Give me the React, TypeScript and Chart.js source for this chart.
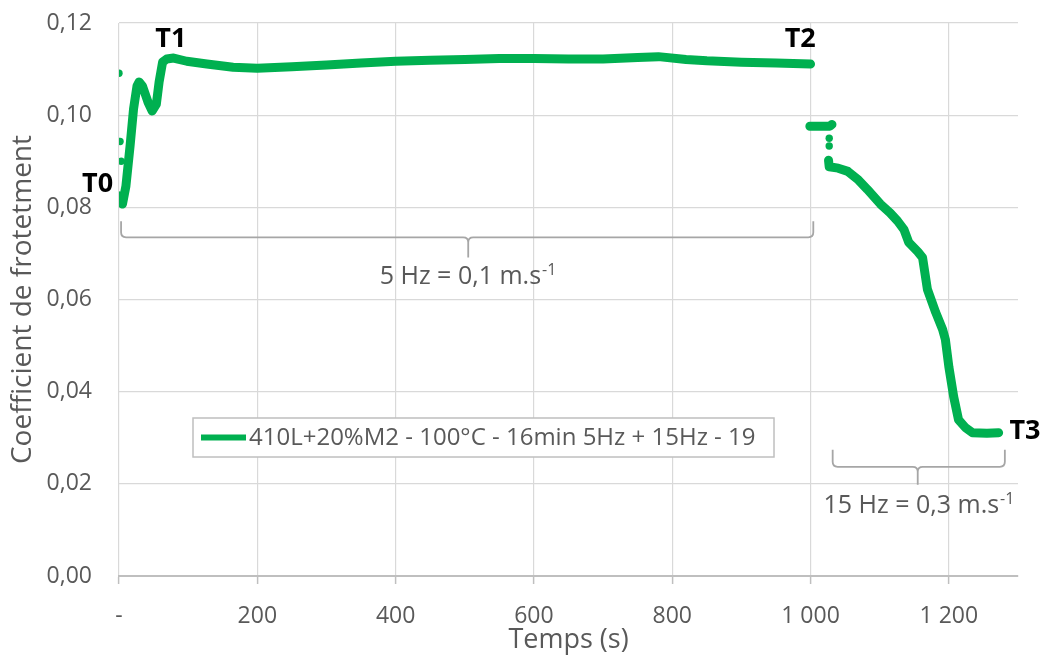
import React, { useEffect, useRef } from "react";
import { Chart, registerables } from "chart.js";

Chart.register(...registerables);

// ---- Data ----
const seg5x = [0, 5, 10, 16, 21, 26, 29, 34, 42, 48, 54, 58, 63, 69, 79, 98, 127, 165, 200, 250, 300, 350, 400, 450, 500, 550, 600, 650, 700, 750, 780, 820, 850, 900, 950, 1000];
const seg5y = [0.0825, 0.0807, 0.0846, 0.0933, 0.1013, 0.1063, 0.1072, 0.1063, 0.1028, 0.1009, 0.1024, 0.1072, 0.1115, 0.1122, 0.1124, 0.1117, 0.1111, 0.1104, 0.1102, 0.1105, 0.1109, 0.1113, 0.1117, 0.1119, 0.1121, 0.1123, 0.1123, 0.1122, 0.1122, 0.1125, 0.1127, 0.1121, 0.1118, 0.1115, 0.1113, 0.1111];

const stepX = [999, 1028, 1031];
const stepY = [0.0976, 0.0976, 0.098];

const seg15x = [1026, 1027, 1040, 1054, 1068, 1082, 1101, 1115, 1126, 1135, 1142, 1155, 1162, 1169, 1181, 1191, 1195, 1200, 1207, 1214, 1224, 1234, 1255, 1272];
const seg15y = [0.0902, 0.0888, 0.0885, 0.0878, 0.0861, 0.0839, 0.0807, 0.0788, 0.077, 0.0752, 0.0724, 0.0704, 0.0691, 0.0622, 0.0572, 0.0535, 0.0513, 0.0454, 0.0389, 0.0339, 0.0322, 0.0311, 0.031, 0.0311];

const outX = [0, 1.5, 3, 1027, 1027];
const outY = [0.1091, 0.0943, 0.09, 0.095, 0.0933];

const seriesLabel = "410L+20%M2 - 100°C - 16min 5Hz + 15Hz - 19";
const xTitle = "Temps (s)";
const yTitle = "Coefficient de frotetment";

const yTicks = [0, 0.02, 0.04, 0.06, 0.08, 0.1, 0.12];
const xTickLabels: Record<number, string> = { 0: "-", 200: "200", 400: "400", 600: "600", 800: "800", 1000: "1 000", 1200: "1 200" };

// Point labels (x, y in data units)
const markLabels = [
  { text: "T0", x: -31, y: 0.0849 },
  { text: "T1", x: 75, y: 0.1165 },
  { text: "T2", x: 985, y: 0.1165 },
  { text: "T3", x: 1310, y: 0.0315 },
];

// Braces (data units): xl, xr, xm, yTop, yH, yDip
const braces = [
  { xl: 3, xr: 1004, xm: 505, yt: 0.077, yh: 0.0735, yd: 0.0691 },
  { xl: 1032, xr: 1281, xm: 1155, yt: 0.0274, yh: 0.0237, yd: 0.0198 },
];
const braceTexts = [
  { main: "5 Hz = 0,1 m.s", sup: "-1", x: 504, y: 0.0633 },
  { main: "15 Hz = 0,3 m.s", sup: "-1", x: 1156, y: 0.0137 },
];

const GREEN = "#00b050";
const TEXT = "#595959";
const FONT = "'Open Sans', 'DejaVu Sans', sans-serif";

const toPts = (xs: number[], ys: number[]) => xs.map((x, i) => ({ x, y: ys[i] }));

const annotationPlugin = {
  id: "annots",
  afterDraw(chart: any) {
    const ctx = chart.ctx as CanvasRenderingContext2D;
    const xs = chart.scales.x;
    const ys = chart.scales.y;
    const ca = chart.chartArea;
    ctx.save();

    // braces
    ctx.strokeStyle = "#a6a6a6";
    ctx.lineWidth = 1.8;
    for (const b of braces) {
      const xl = xs.getPixelForValue(b.xl);
      const xr = xs.getPixelForValue(b.xr);
      const xm = xs.getPixelForValue(b.xm);
      const yt = ys.getPixelForValue(b.yt);
      const yh = ys.getPixelForValue(b.yh);
      const yd = ys.getPixelForValue(b.yd);
      const r = 5;
      ctx.beginPath();
      ctx.moveTo(xl, yt);
      ctx.lineTo(xl, yh - r);
      ctx.quadraticCurveTo(xl, yh, xl + r, yh);
      ctx.lineTo(xm - r, yh);
      ctx.quadraticCurveTo(xm, yh, xm, yh + r);
      ctx.lineTo(xm, yd);
      ctx.moveTo(xm, yh + r);
      ctx.quadraticCurveTo(xm, yh, xm + r, yh);
      ctx.lineTo(xr - r, yh);
      ctx.quadraticCurveTo(xr, yh, xr, yh - r);
      ctx.lineTo(xr, yt);
      ctx.stroke();
    }

    // brace texts
    ctx.fillStyle = TEXT;
    ctx.textBaseline = "alphabetic";
    for (const t of braceTexts) {
      ctx.font = `25px ${FONT}`;
      const w1 = ctx.measureText(t.main).width;
      ctx.font = `16px ${FONT}`;
      const w2 = ctx.measureText(t.sup).width;
      const cx = xs.getPixelForValue(t.x);
      const by = ys.getPixelForValue(t.y);
      const start = cx - (w1 + w2) / 2;
      ctx.font = `25px ${FONT}`;
      ctx.textAlign = "left";
      ctx.fillText(t.main, start, by);
      ctx.font = `16px ${FONT}`;
      ctx.fillText(t.sup, start + w1 + 1, by - 9);
    }

    // T labels
    ctx.fillStyle = "#000";
    ctx.font = `bold 27px ${FONT}`;
    ctx.textAlign = "center";
    ctx.textBaseline = "middle";
    for (const m of markLabels) {
      ctx.fillText(m.text, xs.getPixelForValue(m.x), ys.getPixelForValue(m.y));
    }

    // legend box (inside plot)
    const lx = ca.left + 74;
    const ly = ca.top + 395;
    const lw = 581;
    const lh = 39;
    ctx.fillStyle = "#fff";
    ctx.fillRect(lx, ly, lw, lh);
    ctx.strokeStyle = "#bfbfbf";
    ctx.lineWidth = 1.5;
    ctx.strokeRect(lx, ly, lw, lh);
    ctx.strokeStyle = GREEN;
    ctx.lineWidth = 6;
    ctx.beginPath();
    ctx.moveTo(lx + 8, ly + lh / 2);
    ctx.lineTo(lx + 53, ly + lh / 2);
    ctx.stroke();
    ctx.fillStyle = TEXT;
    ctx.font = `24px ${FONT}`;
    ctx.textAlign = "left";
    ctx.textBaseline = "middle";
    ctx.fillText(seriesLabel, lx + 56, ly + lh / 2 + 1);

    ctx.restore();
  },
};

export default function App() {
  const ref = useRef<HTMLCanvasElement | null>(null);

  useEffect(() => {
    document.body.style.margin = "0";
    let chart: Chart | null = null;
    let cancelled = false;
    const make = () => {
      if (cancelled || !ref.current) return;
      const lineDs = (data: any[]) => ({
        label: seriesLabel,
        data,
        showLine: true,
        borderColor: GREEN,
        backgroundColor: GREEN,
        borderWidth: 9,
        pointRadius: 0,
        borderCapStyle: "round" as const,
        borderJoinStyle: "round" as const,
        tension: 0,
      });
      chart = new Chart(ref.current, {
        type: "scatter",
        data: {
          datasets: [
            lineDs(toPts(seg5x, seg5y)),
            lineDs(toPts(stepX, stepY)),
            lineDs(toPts(seg15x, seg15y)),
            {
              label: seriesLabel,
              data: toPts(outX, outY),
              showLine: false,
              pointRadius: 3.7,
              pointBorderWidth: 0,
              backgroundColor: GREEN,
              borderColor: GREEN,
            },
          ],
        },
        options: {
          animation: false,
          responsive: false,
          devicePixelRatio: 1,
          layout: { padding: { top: 23, right: 26, left: 0, bottom: 0 } },
          plugins: { legend: { display: false }, tooltip: { enabled: false } },
          scales: {
            x: {
              type: "linear",
              min: 0,
              max: 1300,
              afterFit: (s: any) => { s.height = 81; },
              ticks: {
                stepSize: 200,
                includeBounds: false,
                autoSkip: false,
                maxRotation: 0,
                padding: 19,
                color: TEXT,
                font: { size: 23, family: FONT },
                callback: (v: any) => xTickLabels[v as number] ?? "",
              },
              grid: { color: "#d9d9d9", lineWidth: 1.2, drawTicks: true, tickLength: 8, tickColor: "#bfbfbf", tickWidth: 1.5 },
              border: { color: "#bfbfbf", width: 2 },
              title: { display: true, text: xTitle, color: TEXT, font: { size: 27, family: FONT }, padding: { top: 0, bottom: 0 } },
            },
            y: {
              type: "linear",
              min: 0,
              max: 0.12,
              afterFit: (s: any) => { s.width = 119; },
              afterBuildTicks: (s: any) => { s.ticks = yTicks.map((v) => ({ value: v })); },
              ticks: {
                padding: 3,
                color: TEXT,
                font: { size: 23, family: FONT },
                callback: (v: any) => (v as number).toFixed(2).replace(".", ","),
              },
              grid: { color: "#d9d9d9", lineWidth: 1.2, drawTicks: true, tickLength: 24, tickColor: "rgba(0,0,0,0)" },
              border: { display: false },
              title: { display: true, text: yTitle, color: TEXT, font: { size: 28, family: FONT }, padding: { top: 6, bottom: 0 } },
            },
          },
        },
        plugins: [annotationPlugin],
      });
    };
    const fonts = (document as any).fonts;
    if (fonts && fonts.load) {
      Promise.all([
        fonts.load(`23px "Open Sans"`),
        fonts.load(`bold 27px "Open Sans"`),
      ]).then(make, make);
    } else {
      make();
    }
    return () => {
      cancelled = true;
      if (chart) chart.destroy();
    };
  }, []);

  return (
    <div style={{ width: 1044, height: 657 }}>
      <canvas ref={ref} width={1044} height={657} style={{ display: "block" }} />
    </div>
  );
}
